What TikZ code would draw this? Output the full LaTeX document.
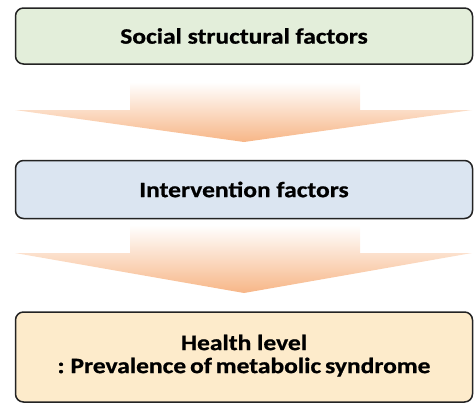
\documentclass[tikz,border=0pt]{standalone}
\usepackage{fontspec}
\setmainfont{Carlito}
\newfontfamily\lblfont{Carlito}[FakeStretch=1.16, FakeBold=0.8]
\definecolor{boxgreen}{RGB}{227,238,218}
\definecolor{boxblue}{RGB}{219,229,241}
\definecolor{boxcream}{RGB}{253,235,203}
\definecolor{flowpeach}{RGB}{247,182,135}
\definecolor{edge}{RGB}{35,35,35}
\begin{document}
\begin{tikzpicture}[x=1pt,y=-1pt]
\tikzset{
  box/.style={draw=edge, line width=1.5pt, rounded corners=8pt,
    minimum width=457pt, inner sep=0pt, align=center,
    font=\lblfont\bfseries\fontsize{22}{23}\selectfont},
  flow/.style={top color=white, bottom color=flowpeach, draw=none}
}
\useasboundingbox (0,0) rectangle (475,407);
% flow arrows
\path[flow] (130,82) -- (360,82) -- (360,110) -- (472,110) -- (244,142)
  -- (15,110) -- (130,110) -- cycle;
\path[flow] (130,225) -- (360,225) -- (360,253) -- (472,253) -- (244,293)
  -- (15,253) -- (130,253) -- cycle;
% boxes
\node[box, fill=boxgreen, minimum height=56pt] (b1) at (244,36) {Social structural factors};
\node[box, fill=boxblue, minimum height=58pt] (b2) at (244,189.5) {Intervention factors};
\node[box, fill=boxcream, minimum height=90pt] (b3) at (244,357)
  {\raisebox{-4pt}{\begin{tabular}{@{}c@{}}Health level\\\spaceskip=0.18em : Prevalence of metabolic syndrome\end{tabular}}};
\end{tikzpicture}
\end{document}
